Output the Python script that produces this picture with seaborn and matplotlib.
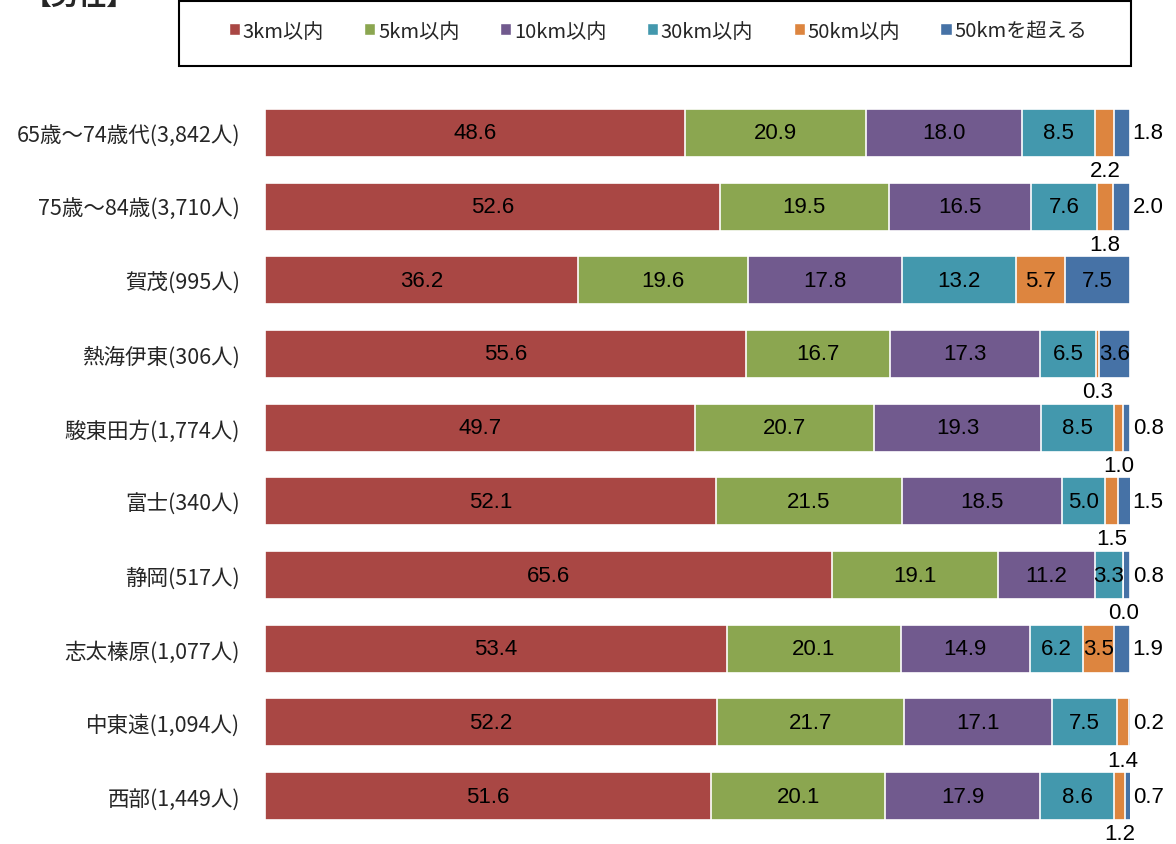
import numpy as np
import pandas as pd
import matplotlib
matplotlib.use("Agg")
import matplotlib.pyplot as plt
import seaborn as sns
from matplotlib.patches import Patch, Rectangle

categories = ["65歳～74歳代(3,842人)", "75歳～84歳(3,710人)", "賀茂(995人)", "熱海伊東(306人)",
              "駿東田方(1,774人)", "富士(340人)", "静岡(517人)", "志太榛原(1,077人)",
              "中東遠(1,094人)", "西部(1,449人)"]
series_names = ["3km以内", "5km以内", "10km以内", "30km以内", "50km以内", "50kmを超える"]
km3 = [48.6, 52.6, 36.2, 55.6, 49.7, 52.1, 65.6, 53.4, 52.2, 51.6]
km5 = [20.9, 19.5, 19.6, 16.7, 20.7, 21.5, 19.1, 20.1, 21.7, 20.1]
km10 = [18.0, 16.5, 17.8, 17.3, 19.3, 18.5, 11.2, 14.9, 17.1, 17.9]
km30 = [8.5, 7.6, 13.2, 6.5, 8.5, 5.0, 3.3, 6.2, 7.5, 8.6]
km50 = [2.2, 1.8, 5.7, 0.3, 1.0, 1.5, 0.0, 3.5, 1.4, 1.2]
over50 = [1.8, 2.0, 7.5, 3.6, 0.8, 1.5, 0.8, 1.9, 0.2, 0.7]
colors = ["#A94744", "#8BA650", "#715A8E", "#4398AD", "#DD853F", "#4672A6"]

sns.set_style("white")
plt.rcParams["font.family"] = ["Noto Sans CJK JP", "DejaVu Sans"]

vals = np.array([km3, km5, km10, km30, km50, over50])
cum = np.cumsum(vals, axis=0)
df = pd.DataFrame({"cat": categories})
for i, n in enumerate(series_names):
    df[n] = cum[i]

fig = plt.figure(figsize=(11.76, 8.45), dpi=100)
ax = fig.add_axes([265 / 1176, 1 - 834 / 845, 865 / 1176, 737 / 845])

for i in range(len(series_names) - 1, -1, -1):
    sns.barplot(data=df, x=series_names[i], y="cat", orient="h", color=colors[i],
                saturation=1, width=0.65, edgecolor="white", linewidth=1.2, ax=ax)

num_font = dict(family=["Liberation Sans", "DejaVu Sans"], fontsize=16, color="black")
starts = cum - vals
for r in range(len(categories)):
    for i in range(len(series_names)):
        v = vals[i, r]
        cx = starts[i, r] + v / 2
        if v >= 3:
            ax.text(cx, r, f"{v:.1f}", ha="center", va="center", **num_font)
        elif i == 4:
            ax.text(cx, r + 0.51, f"{v:.1f}", ha="center", va="center", clip_on=False, **num_font)
        else:
            ax.text(102.1, r, f"{v:.1f}", ha="center", va="center", clip_on=False, **num_font)

ax.set_xlim(0, 100)
ax.set_ylim(len(categories) - 0.5, -0.5)
ax.set_xlabel("")
ax.set_ylabel("")
ax.set_xticks([])
ax.tick_params(axis="y", length=0, pad=18, labelsize=15.5)
for s in ax.spines.values():
    s.set_visible(False)

# legend box
box = Rectangle((179 / 1176, 1 - 67 / 845), 952 / 1176, 65 / 845, transform=fig.transFigure,
                facecolor="white", edgecolor="black", linewidth=1.5, zorder=1)
fig.patches.append(box)
handles = [Patch(facecolor=c, edgecolor="white") for c in colors]
leg = fig.legend(handles, series_names, loc="center", ncol=6,
                 bbox_to_anchor=(658 / 1176, 1 - 32 / 845),
                 frameon=False, fontsize=14.5,
                 handlelength=0.55, handleheight=0.55, handletextpad=0.15,
                 columnspacing=2.0)

fig.text(0.02, 1.004, "【男性】", fontsize=20, fontweight="bold", va="center", ha="left")

fig.savefig("out.png", dpi=100)
